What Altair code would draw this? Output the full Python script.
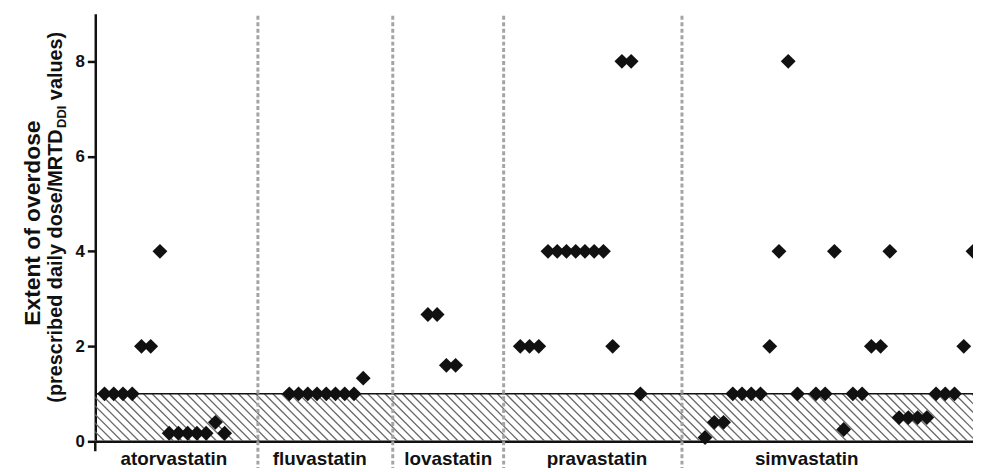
import altair as alt
import pandas as pd

# ---------------- data ----------------
drugs = ["atorvastatin", "fluvastatin", "lovastatin", "pravastatin", "simvastatin"]

atorvastatin_slot = [1, 2, 3, 4, 5, 6, 7, 8, 9, 10, 11, 12, 13, 14]
atorvastatin_ratio = [1, 1, 1, 1, 2, 2, 4, 0.17, 0.17, 0.17, 0.17, 0.17, 0.4, 0.17]

fluvastatin_slot = [21, 22, 23, 24, 25, 26, 27, 28, 29]
fluvastatin_ratio = [1, 1, 1, 1, 1, 1, 1, 1, 1.33]

lovastatin_slot = [36, 37, 38, 39]
lovastatin_ratio = [2.67, 2.67, 1.6, 1.6]

pravastatin_slot = [46, 47, 48, 49, 50, 51, 52, 53, 54, 55, 56, 57, 58, 59]
pravastatin_ratio = [2, 2, 2, 4, 4, 4, 4, 4, 4, 4, 2, 8, 8, 1]

simvastatin_slot = [66, 67, 68, 69, 70, 71, 72, 73, 74, 75, 76, 78, 79, 80, 81,
                    82, 83, 84, 85, 86, 87, 88, 89, 90, 91, 92, 93, 94, 95]
simvastatin_ratio = [0.08, 0.4, 0.4, 1, 1, 1, 1, 2, 4, 8, 1, 1, 1, 4, 0.25,
                     1, 1, 2, 2, 4, 0.5, 0.5, 0.5, 0.5, 1, 1, 1, 2, 4]

group_separators = [17.6, 32.2, 44.2, 63.5]
label_positions = [8.5, 24.3, 38.2, 54.3, 77.0]
mrtd_limit = [1.0]
y_ticks = [0, 2, 4, 6, 8]

slots = [atorvastatin_slot, fluvastatin_slot, lovastatin_slot, pravastatin_slot, simvastatin_slot]
ratios = [atorvastatin_ratio, fluvastatin_ratio, lovastatin_ratio, pravastatin_ratio, simvastatin_ratio]

rows = []
for d, s, r in zip(drugs, slots, ratios):
    for si, ri in zip(s, r):
        rows.append({"drug": d, "slot": si, "ratio": ri})
points_df = pd.DataFrame(rows)
sep_df = pd.DataFrame({"pos": group_separators})
lab_df = pd.DataFrame({"pos": label_positions, "drug": drugs})
lim_df = pd.DataFrame({"limit": mrtd_limit})

# ---------------- layout ----------------
W, H = 885, 431
FONT = "Liberation Sans"
INK = "#111111"

xs = alt.Scale(domain=[0, 95], nice=False, zero=False)
ys = alt.Scale(domain=[0, 9], nice=False, zero=True)
xax = alt.Axis(labels=False, ticks=False, grid=False, title=None, orient="bottom",
               domainColor=INK, domainWidth=2.5)
yax = alt.Axis(values=y_ticks, grid=False, title=None, tickSize=8, tickWidth=2.5,
               tickColor=INK, domainColor=INK, domainWidth=2.5,
               labelFont=FONT, labelFontSize=17, labelFontWeight="bold",
               labelColor=INK, labelPadding=3)

# hatch lines inside the 0-1 band (decoration)
hatch = (
    alt.Chart(alt.sequence(start=-6, stop=96, step=0.934, as_="h"))
    .transform_calculate(h2="datum.h + 5.15", top="1", bot="0")
    .mark_rule(color="#6a6a6a", strokeWidth=1.3, clip=True)
    .encode(
        x=alt.X("h:Q", scale=xs, axis=xax),
        x2="h2:Q",
        y=alt.Y("top:Q", scale=ys, axis=yax),
        y2="bot:Q",
    )
)

limit_line = (
    alt.Chart(lim_df)
    .mark_rule(color=INK, strokeWidth=1.6)
    .encode(y=alt.Y("limit:Q", scale=ys, axis=yax), x=alt.value(0), x2=alt.value(W))
)

separators = (
    alt.Chart(sep_df)
    .mark_rule(color="#a4a4a4", strokeWidth=3, strokeDash=[4, 2.5])
    .encode(x=alt.X("pos:Q", scale=xs, axis=xax), y=alt.value(2), y2=alt.value(H + 40))
)

points = (
    alt.Chart(points_df)
    .mark_point(shape="diamond", filled=True, color=INK, size=225, opacity=1)
    .encode(
        x=alt.X("slot:Q", scale=xs, axis=xax),
        y=alt.Y("ratio:Q", scale=ys, axis=yax),
    )
)

labels = (
    alt.Chart(lab_df)
    .mark_text(font=FONT, fontSize=19, fontWeight="bold", color=INK,
               baseline="alphabetic", align="center")
    .encode(x=alt.X("pos:Q", scale=xs, axis=xax), y=alt.value(H + 24), text="drug:N")
)

axis_ext = (
    alt.Chart(lim_df)
    .mark_rule(color=INK, strokeWidth=2.5)
    .encode(x=alt.value(0), y=alt.value(H), y2=alt.value(H + 10))
)

title1 = (
    alt.Chart(lim_df)
    .mark_text(text="Extent of overdose", font=FONT, fontSize=23, fontWeight="bold",
               color=INK, angle=270, align="center", baseline="middle")
    .encode(x=alt.value(-63), y=alt.value(211))
)
t2a = (
    alt.Chart(lim_df)
    .mark_text(text="(prescribed daily dose/MRTD", font=FONT, fontSize=20, fontWeight="bold",
               color=INK, angle=270, align="left", baseline="middle")
    .encode(x=alt.value(-40), y=alt.value(392))
)
t2b = (
    alt.Chart(lim_df)
    .mark_text(text="DDI", font=FONT, fontSize=13, fontWeight="bold",
               color=INK, angle=270, align="left", baseline="middle")
    .encode(x=alt.value(-34), y=alt.value(115))
)
t2c = (
    alt.Chart(lim_df)
    .mark_text(text="values)", font=FONT, fontSize=20, fontWeight="bold",
               color=INK, angle=270, align="left", baseline="middle")
    .encode(x=alt.value(-40), y=alt.value(87))
)

chart = (
    alt.layer(hatch, limit_line, separators, points, labels, axis_ext, title1, t2a, t2b, t2c)
    .properties(width=W, height=H, autosize=alt.AutoSizeParams(type="none"),
                padding={"left": 88, "top": 4, "right": 0, "bottom": 25},
                background="white")
    .configure_view(strokeWidth=0, stroke="transparent")
)

chart.save("out.html", embed_options={"renderer": "svg", "actions": False})
